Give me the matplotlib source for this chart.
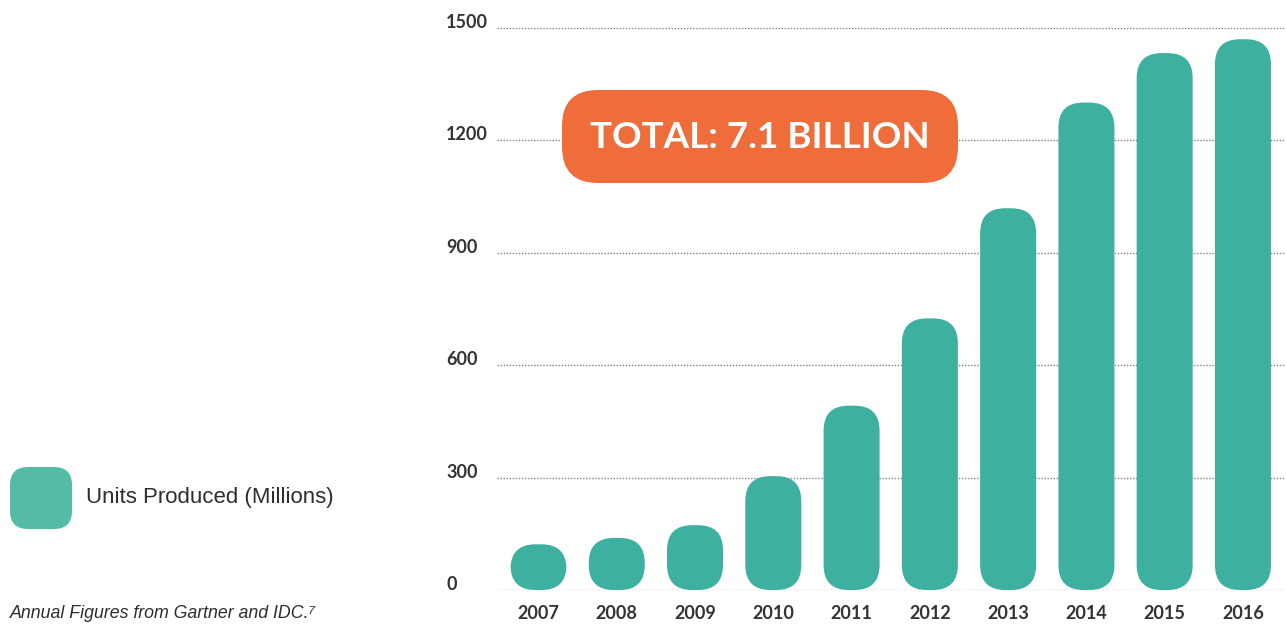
import numpy as np
import matplotlib.pyplot as plt
from matplotlib.patches import FancyBboxPatch

# units produced per year (millions)
years = ['2007', '2008', '2009', '2010', '2011', '2012', '2013', '2014', '2015', '2016']
units = [122, 139, 173, 304, 492, 725, 1019, 1301, 1433, 1470]
yticks = [0, 300, 600, 900, 1200, 1500]
badge_text = 'TOTAL: 7.1 BILLION'
legend_label = 'Units Produced (Millions)'
footnote = 'Annual Figures from Gartner and IDC.\u2077'

teal = '#3eb0a0'
orange = '#ee6d3a'
dark = '#333333'

W, H = 1286, 626
fig = plt.figure(figsize=(W / 100, H / 100), dpi=100)

# axes placed in pixel terms
ax_l, ax_r, ax_b, ax_t = 497, 1286, 590, 28
ax = fig.add_axes([ax_l / W, (H - ax_b) / H, (ax_r - ax_l) / W, (ax_b - ax_t) / H])
xlim = (-0.53, 9.55)
ylim = (0, 1500)
ax.set_xlim(*xlim)
ax.set_ylim(*ylim)

px_x = (ax_r - ax_l) / (xlim[1] - xlim[0])
px_y = (ax_b - ax_t) / (ylim[1] - ylim[0])
aspect = px_x / px_y

bar_w = 56 / px_x
rad = 25 / px_x
for i, v in enumerate(units):
    p = FancyBboxPatch((i - bar_w / 2, 0), bar_w, v,
                       boxstyle=f'round,pad=0,rounding_size={rad}',
                       mutation_aspect=aspect, fc=teal, ec='none',
                       zorder=3, clip_on=False)
    ax.add_patch(p)

for s in ax.spines.values():
    s.set_visible(False)

ax.set_yticks(yticks)
ax.set_yticklabels([str(t) for t in yticks])
ax.set_xticks(range(len(years)))
ax.set_xticklabels(years)
ax.tick_params(axis='y', length=0, pad=36.5, labelsize=13, labelcolor=dark)
ax.tick_params(axis='x', length=0, pad=11, labelsize=13, labelcolor=dark)
for lbl in ax.get_yticklabels():
    lbl.set_ha('left')
    lbl.set_va('baseline')
    lbl.set_family('Lato')
    lbl.set_weight('bold')
for lbl in ax.get_xticklabels():
    lbl.set_family('Lato')
    lbl.set_weight('bold')

ax.yaxis.grid(True, color='#808080', linestyle=(0, (1, 1.2)), linewidth=1.0)
ax.set_axisbelow(True)

# orange total badge
bx0, by0, bx1, by1 = 562, 90, 958, 183
badge = FancyBboxPatch((bx0 / W, (H - by1) / H), (bx1 - bx0) / W, (by1 - by0) / H,
                       boxstyle=f'round,pad=0,rounding_size={36 / W}',
                       mutation_aspect=W / H, transform=fig.transFigure,
                       fc=orange, ec='none', zorder=5)
fig.add_artist(badge)
fig.text(760 / W, (H - 138) / H, badge_text, ha='center', va='center',
         color='white', fontsize=26.5, family='Lato', weight='bold', zorder=6)

# legend swatch
lx0, ly0, lx1, ly1 = 10, 467, 72, 529
sw = FancyBboxPatch((lx0 / W, (H - ly1) / H), (lx1 - lx0) / W, (ly1 - ly0) / H,
                    boxstyle=f'round,pad=0,rounding_size={18 / W}',
                    mutation_aspect=W / H, transform=fig.transFigure,
                    fc='#54bba6', ec='none')
fig.add_artist(sw)
fig.text(86 / W, (H - 498) / H, legend_label, ha='left', va='center',
         color='#2e2e2e', fontsize=16, family=['Liberation Sans', 'DejaVu Sans'])

fig.text(10 / W, (H - 618) / H, footnote, ha='left', va='baseline',
         color='#2e2e2e', fontsize=12.8, style='italic',
         family=['Liberation Sans', 'DejaVu Sans'])

fig.savefig('out.png', dpi=100)
